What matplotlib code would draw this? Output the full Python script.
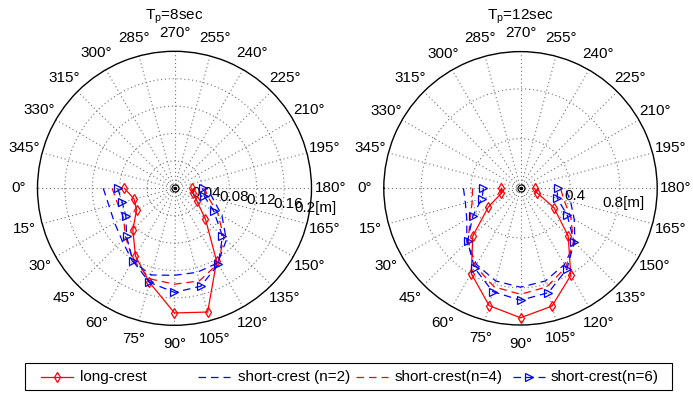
import numpy as np
import matplotlib
matplotlib.use("Agg")
import matplotlib.pyplot as plt
from matplotlib.lines import Line2D
from matplotlib.patches import Rectangle

plt.rcParams['font.family'] = ['Liberation Sans', 'DejaVu Sans']
plt.rcParams['mathtext.fontset'] = 'custom'
plt.rcParams['mathtext.rm'] = 'Liberation Sans'
plt.rcParams['mathtext.it'] = 'Liberation Sans:italic'

# Wave directions (deg) at which the response amplitude was evaluated
directions = np.arange(0, 181, 15)

# Tp = 8 s  -- response amplitude [m]
tp8_long = [0.073, 0.061, 0.064, 0.086, 0.114, 0.142, 0.182, 0.187, 0.123, 0.064, 0.038, 0.028, 0.025]
tp8_n2   = [0.104, 0.099, 0.101, 0.108, 0.123, 0.131, 0.127, 0.127, 0.126, 0.107, 0.080, 0.058, 0.048]
tp8_n4   = [0.091, 0.086, 0.086, 0.101, 0.121, 0.137, 0.140, 0.140, 0.127, 0.102, 0.073, 0.051, 0.044]
tp8_n6   = [0.083, 0.079, 0.082, 0.099, 0.122, 0.142, 0.152, 0.148, 0.128, 0.099, 0.066, 0.045, 0.041]

# Tp = 12 s -- response amplitude [m]
tp12_long = [0.153, 0.161, 0.298, 0.543, 0.792, 0.977, 1.042, 0.981, 0.809, 0.543, 0.310, 0.137, 0.113]
tp12_n2   = [0.459, 0.459, 0.499, 0.611, 0.708, 0.772, 0.796, 0.772, 0.708, 0.619, 0.499, 0.418, 0.362]
tp12_n4   = [0.386, 0.402, 0.467, 0.595, 0.724, 0.821, 0.853, 0.821, 0.732, 0.603, 0.467, 0.362, 0.322]
tp12_n6   = [0.298, 0.322, 0.442, 0.603, 0.740, 0.861, 0.901, 0.869, 0.748, 0.611, 0.434, 0.306, 0.298]

# Radial grids and their labels
tp8_rticks = [0.04, 0.08, 0.12, 0.16]
tp8_rlabels = ['0.04', '0.08', '0.12', '0.16', '0.2[m]']
tp8_rmax = 0.2
tp12_rticks = [0.4, 0.8]
tp12_rlabels = ['0.4', '0.8[m]']
tp12_rmax = 1.1

series_labels = ['long-crest', 'short-crest (n=2)', 'short-crest(n=4)', 'short-crest(n=6)']
series_styles = [
    dict(color='r', ls='-', marker='d'),
    dict(color='b', ls=(0, (6, 4)), marker=None),
    dict(color='r', ls=(0, (6, 4)), marker=None),
    dict(color='b', ls=(0, (6, 4)), marker='>'),
]

W, H = 693, 394
FS = 11
fig = plt.figure(figsize=(W / 100, H / 100), dpi=100)


def axes_rect(cx, cy, R):
    return [(cx - R) / W, (H - (cy + R)) / H, 2 * R / W, 2 * R / H]


panels = [
    dict(rect=axes_rect(174.5, 188.3, 137.0), title=r'T$_\mathrm{p}$=8sec',
         rmax=tp8_rmax, rticks=tp8_rticks, rlabels=tp8_rlabels, R=137.0,
         data=[tp8_long, tp8_n2, tp8_n4, tp8_n6]),
    dict(rect=axes_rect(520.5, 188.3, 136.7), title=r'T$_\mathrm{p}$=12sec',
         rmax=tp12_rmax, rticks=tp12_rticks, rlabels=tp12_rlabels, R=136.7,
         data=[tp12_long, tp12_n2, tp12_n4, tp12_n6]),
]

theta = np.deg2rad(directions)

for p in panels:
    ax = fig.add_axes(p['rect'], projection='polar')
    ax.set_theta_zero_location('W')
    ax.set_theta_direction(1)
    ax.set_ylim(0, p['rmax'])
    ax.set_xticks(np.deg2rad(np.arange(0, 360, 15)))
    ax.set_xticklabels([])
    ax.set_yticks(p['rticks'])
    ax.set_yticklabels([])
    ax.grid(True, linestyle=(0, (1, 2.5)), color='0.45', linewidth=0.8)
    ax.spines['polar'].set_color('black')
    ax.spines['polar'].set_linewidth(1.0)
    ax.patch.set_facecolor('white')

    # centre marker
    ax.plot([0], [0], marker='o', ms=5, mfc='none', mec='k', mew=0.8, zorder=4, clip_on=False)
    ax.plot([0], [0], marker='o', ms=1.5, color='k', zorder=4, clip_on=False)

    for vals, st in zip(p['data'], series_styles):
        ax.plot(theta, vals, color=st['color'], linestyle=st['ls'], linewidth=0.9,
                marker=st['marker'], ms=5.5, mfc='none', mec=st['color'], mew=0.9,
                zorder=3, clip_on=False)

    # angle labels
    for d in range(0, 360, 15):
        ax.text(np.deg2rad(d), p['rmax'] * 1.137, f'{d}°', ha='center', va='center',
                fontsize=FS, clip_on=False)

    # radial labels
    lab_r = list(p['rticks']) + [p['rmax']]
    off = 5.0 / p['R'] * p['rmax']
    for r, lab in zip(lab_r, p['rlabels']):
        ax.text(np.deg2rad(172), r + off, lab, ha='center', va='center', fontsize=FS,
                zorder=1, clip_on=False)

    ax.text(0.5, 1.117, p['title'], transform=ax.transAxes, ha='center', va='baseline',
            fontsize=FS)

# legend drawn along the bottom
box_l, box_r, box_t, box_b = 25, 672, 363, 390
fig.patches.append(Rectangle((box_l / W, 1 - box_b / H), (box_r - box_l) / W, (box_b - box_t) / H,
                             transform=fig.transFigure, facecolor='white', edgecolor='black',
                             linewidth=0.8))
handle_x = [41, 198, 356, 513]
text_x = [80, 238, 395, 551]
yc = 1 - 376.5 / H
for hx, tx, lab, st in zip(handle_x, text_x, series_labels, series_styles):
    x0, x1 = hx / W, (hx + 32) / W
    fig.add_artist(Line2D([x0, x1], [yc, yc], transform=fig.transFigure, color=st['color'],
                          linestyle=st['ls'], linewidth=0.9))
    if st['marker']:
        fig.add_artist(Line2D([(x0 + x1) / 2], [yc], transform=fig.transFigure, marker=st['marker'],
                              ms=5.5, mfc='none', mec=st['color'], mew=0.9, linestyle='none'))
    fig.text(tx / W, yc, lab, ha='left', va='center', fontsize=FS)

fig.savefig('out.png', dpi=100)
